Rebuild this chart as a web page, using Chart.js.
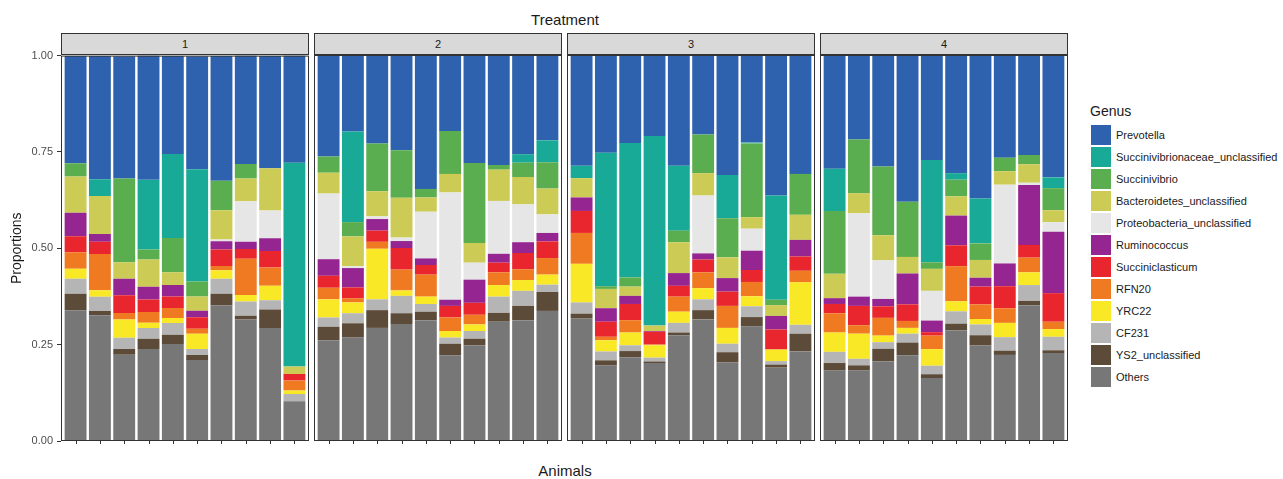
<!DOCTYPE html>
<html>
<head>
<meta charset="utf-8">
<title>Genus proportions by treatment</title>
<script src="https://cdn.jsdelivr.net/npm/chart.js@4.4.1/dist/chart.umd.min.js"></script>
<style>
  html, body { margin: 0; padding: 0; background: #fff; }
  body {
    width: 1283px; height: 479px; overflow: hidden; position: relative;
    font-family: 'Liberation Sans', Arial, Helvetica, sans-serif; color: #1a1a1a;
  }
  canvas { position: absolute; }
  .strip {
    position: absolute; top: 33px; height: 22px; box-sizing: border-box;
    background: #d9d9d9; border: 1px solid #333; font-size: 11px;
    line-height: 20px; text-align: center; color: #1a1a1a;
  }
  .title { position: absolute; font-size: 15px; line-height: 18px; text-align: center; width: 300px; }
  #legend { position: absolute; left: 1088px; top: 102px; }
  #legend .lt { font-size: 14px; line-height: 18px; margin: 0 0 4px 2px; }
  #legend .row { display: flex; align-items: center; height: 22px; }
  #legend .key { width: 20px; height: 20px; margin-left: 3px; margin-right: 5px; }
  #legend .lab { font-size: 11px; white-space: nowrap; }
</style>
</head>
<body>

<div class="title" style="left:415px; top:11px;">Treatment</div>
<div class="title" style="left:415px; top:462px;">Animals</div>
<div id="legend"></div>

<script>
// Treatment groups (facets); each holds ten animals
const treatments = ['1', '2', '3', '4'];
const animalsPerTreatment = 10;

// Genus names in legend order (top of each stack first)
const genera = [
  'Prevotella', 'Succinivibrionaceae_unclassified', 'Succinivibrio',
  'Bacteroidetes_unclassified', 'Proteobacteria_unclassified', 'Ruminococcus',
  'Succiniclasticum', 'RFN20', 'YRC22', 'CF231', 'YS2_unclassified', 'Others'
];

// Relative abundance per animal (treatment 1 animals, then 2, 3, 4)
const prevotella = [
  .278,.320,.317,.322,.254,.293,.324,.281,.291,.278,
  .263,.200,.228,.248,.348,.197,.278,.285,.257,.222,
  .287,.254,.228,.210,.287,.207,.311,.226,.365,.307,
  .296,.219,.287,.378,.271,.304,.371,.265,.258,.317];
const succinivibrionaceaeUncl = [
  0,.043,0,.181,.218,.291,0,0,0,.529,
  0,.235,0,0,0,0,0,0,.022,.057,
  .032,.346,.348,.491,.168,0,.112,.002,.270,0,
  .109,0,0,0,.265,.017,.116,0,0,.028];
const succinivibrio = [
  .035,0,.217,.026,.089,.039,.076,.038,0,0,
  .042,.037,.124,.123,.022,.111,.207,.012,.037,.068,
  0,.007,.024,0,.030,.100,.101,.191,.014,.106,
  .163,.139,.178,.143,.017,.043,.043,.035,.024,.057];
const bacteroidetesUncl = [
  .094,.099,.043,.071,.033,.037,.076,.059,.110,.019,
  .054,.077,.065,.103,.037,.048,.051,.081,.071,.067,
  .050,.050,.024,.014,.080,.058,.054,.030,.028,.065,
  .063,.052,.065,.043,.057,.050,.046,.035,.048,.031];
const proteobacteriaUncl = [
  0,0,0,0,0,0,.005,.105,.072,0,
  .170,.005,.007,.009,.121,.278,.044,.137,.098,.048,
  0,0,0,0,0,.150,0,.057,0,0,
  0,.216,.100,0,.077,0,0,.204,.006,.025];
const ruminococcus = [
  .061,.020,.043,.033,.030,.017,.021,.019,.033,0,
  .043,.050,.030,.018,.017,.016,.060,.023,.028,.022,
  .035,.035,.021,.002,.033,.016,.035,.050,.035,.043,
  .015,.024,.019,.080,.030,.077,.023,.059,.155,.159];
const succiniclasticum = [
  .041,.032,.046,.032,.030,.030,.043,.025,.043,.017,
  .031,.028,.029,.056,.025,.030,.031,.025,.042,.043,
  .057,.039,.042,.033,.028,.033,.037,.031,.052,.037,
  .024,.050,.030,.043,.009,.054,.046,.057,.033,.074];
const rfn20 = [
  .043,.094,.017,.028,.026,.013,.011,.094,.047,.026,
  .030,.011,.018,.054,.057,.035,.025,.033,.028,.043,
  .080,.009,.032,.002,.039,.041,.057,.037,0,.030,
  .050,.022,.046,.018,.035,.091,.038,.038,.038,.019];
const yrc22 = [
  .026,.017,.047,.014,.013,.039,.022,.017,.038,.009,
  .047,.028,.131,.014,.019,.017,.017,.030,.028,.026,
  .100,.029,.033,.032,.029,.029,.041,.026,.030,.110,
  .050,.065,.017,.015,.043,.026,.014,.037,.033,.020];
const cf231 = [
  .039,.037,.029,.028,.030,.016,.039,.037,.024,.019,
  .024,.026,.028,.045,.020,.016,.020,.042,.039,.019,
  .029,.023,.015,.010,.025,.028,.022,.028,.009,.023,
  .029,.017,.017,.023,.022,.032,.028,.035,.041,.035];
const ys2Uncl = [
  .043,.011,.015,.026,.024,.013,.030,.010,.048,0,
  .035,.037,.046,.028,.022,.030,.017,.023,.037,.049,
  .013,.013,.016,.004,.007,.024,.026,.024,.008,.046,
  .019,.013,.033,.033,.010,.017,.026,.011,.011,.007];
const others = [
  .339,.326,.224,.239,.252,.210,.352,.315,.293,.103,
  .261,.268,.293,.303,.313,.222,.248,.309,.313,.337,
  .317,.196,.217,.202,.274,.315,.204,.297,.190,.232,
  .183,.183,.206,.222,.163,.287,.248,.223,.352,.228];

const seriesValues = [
  prevotella, succinivibrionaceaeUncl, succinivibrio, bacteroidetesUncl,
  proteobacteriaUncl, ruminococcus, succiniclasticum, rfn20, yrc22,
  cf231, ys2Uncl, others
];

const genusColors = [
  '#2f62ae', '#19a997', '#5bae4f', '#cbcb56', '#e6e6e6', '#952590',
  '#e9262d', '#f07a22', '#f8e826', '#b5b5b5', '#5c4b39', '#777777'
];

const yTicks = [0, 0.25, 0.5, 0.75, 1];

// Facet panel geometry (page pixels)
const panelLeft = [61, 314, 567, 820];
const panelWidth = 248;
const plotTop = 55, plotBottom = 441;
const canvasTop = 45, canvasHeight = 410;

// Panel border and x tick marks under each animal
const panelFrame = {
  id: 'panelFrame',
  afterDatasetsDraw(chart) {
    const { ctx, chartArea: a, scales } = chart;
    ctx.save();
    ctx.strokeStyle = '#333';
    ctx.lineWidth = 1;
    ctx.strokeRect(a.left + 0.5, a.top + 0.5, a.right - a.left - 1, a.bottom - a.top - 1);
    for (let i = 1; i <= animalsPerTreatment; i++) {
      const x = Math.round(scales.x.getPixelForValue(i)) + 0.5;
      ctx.beginPath();
      ctx.moveTo(x, a.bottom);
      ctx.lineTo(x, a.bottom + 3);
      ctx.stroke();
    }
    ctx.restore();
  }
};

Chart.defaults.font.family = "'Liberation Sans', Arial, Helvetica, sans-serif";

treatments.forEach((t, p) => {
  const strip = document.createElement('div');
  strip.className = 'strip';
  strip.style.left = panelLeft[p] + 'px';
  strip.style.width = panelWidth + 'px';
  strip.textContent = t;
  document.body.appendChild(strip);

  const first = p === 0;
  const cv = document.createElement('canvas');
  const left = first ? 0 : panelLeft[p] - 2;
  const right = panelLeft[p] + panelWidth + 2;
  cv.width = right - left;
  cv.height = canvasHeight;
  cv.style.left = left + 'px';
  cv.style.top = canvasTop + 'px';
  document.body.appendChild(cv);

  // stack from the bottom: Others first, Prevotella last
  const datasets = [];
  for (let g = genera.length - 1; g >= 0; g--) {
    const vals = seriesValues[g].slice(p * animalsPerTreatment, (p + 1) * animalsPerTreatment);
    datasets.push({
      label: genera[g],
      data: vals.map((v, i) => ({ x: i + 1, y: v })),
      backgroundColor: genusColors[g],
      borderWidth: 0,
      barPercentage: 0.9,
      categoryPercentage: 1.0
    });
  }

  new Chart(cv, {
    type: 'bar',
    data: { datasets },
    options: {
      responsive: false,
      animation: false,
      devicePixelRatio: 1,
      layout: {
        padding: {
          top: plotTop - canvasTop,
          bottom: canvasTop + canvasHeight - plotBottom,
          left: first ? 0 : 2,
          right: 2
        }
      },
      plugins: { legend: { display: false }, tooltip: { enabled: false } },
      scales: {
        x: {
          type: 'linear', stacked: true, min: 0.4, max: 10.6,
          offset: false, display: false
        },
        y: {
          stacked: true, min: 0, max: 1,
          display: first,
          afterFit(scale) { if (first) scale.width = panelLeft[0]; },
          afterBuildTicks(scale) { scale.ticks = yTicks.map(v => ({ value: v })); },
          border: { display: false },
          grid: { drawOnChartArea: false, drawTicks: true, tickLength: 4, color: '#333' },
          ticks: {
            padding: 4, color: '#4d4d4d', font: { size: 11 },
            callback: v => Number(v).toFixed(2)
          },
          title: {
            display: true, text: 'Proportions', color: '#1a1a1a',
            font: { size: 14 }, padding: { top: 9, bottom: 0 }
          }
        }
      }
    },
    plugins: [panelFrame]
  });
});

// Legend: genus keys in legend order
const legend = document.getElementById('legend');
const lt = document.createElement('div');
lt.className = 'lt';
lt.textContent = 'Genus';
legend.appendChild(lt);
genera.forEach((g, i) => {
  const row = document.createElement('div');
  row.className = 'row';
  const key = document.createElement('div');
  key.className = 'key';
  key.style.background = genusColors[i];
  const lab = document.createElement('div');
  lab.className = 'lab';
  lab.textContent = g;
  row.appendChild(key);
  row.appendChild(lab);
  legend.appendChild(row);
});
</script>
</body>
</html>
